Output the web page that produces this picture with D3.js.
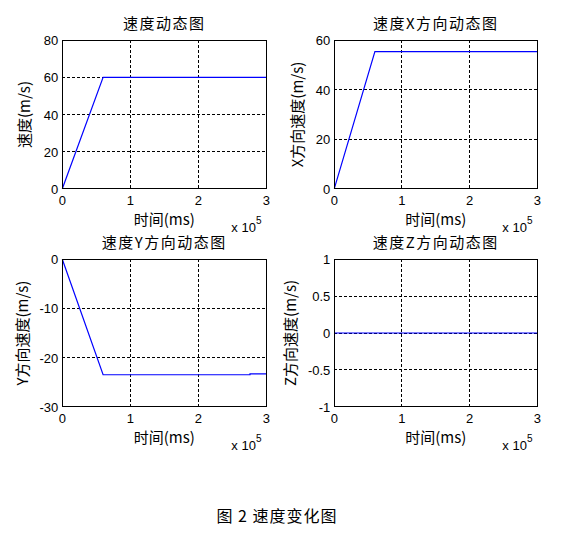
<!DOCTYPE html>
<html>
<head>
<meta charset="utf-8">
<script src="https://cdn.jsdelivr.net/npm/d3@7"></script>
<style>
  body { margin: 0; background: #fff; }
  svg { display: block; }
</style>
</head>
<body>
<div id="chart"></div>
<script>
// time in units of 1e5 ms
const timeTicks = [0, 1, 2, 3];

const speedTime = [0, 0.6, 3];
const speedValues = [0, 60, 60];

const vxTime = [0, 0.6, 3];
const vxValues = [0, 55.4, 55.4];

const vyTime = [0, 0.6, 2.76, 2.76, 3];
const vyValues = [0, -23.5, -23.5, -23.3, -23.3];

const vzTime = [0, 3];
const vzValues = [0, 0];

const panels = [
  { title: '速度动态图', ylabel: '速度(m/s)', t: speedTime, v: speedValues,
    domain: [0, 80], ticks: [0, 20, 40, 60, 80], box: [62.3, 40.3, 266.3, 188.7], ylx: 25 },
  { title: '速度X方向动态图', ylabel: 'X方向速度(m/s)', t: vxTime, v: vxValues,
    domain: [0, 60], ticks: [0, 20, 40, 60], box: [334.3, 40.3, 537.3, 188.7], ylx: 298 },
  { title: '速度Y方向动态图', ylabel: 'Y方向速度(m/s)', t: vyTime, v: vyValues,
    domain: [-30, 0], ticks: [-30, -20, -10, 0], box: [62.3, 259.3, 266.3, 406.7], ylx: 23 },
  { title: '速度Z方向动态图', ylabel: 'Z方向速度(m/s)', t: vzTime, v: vzValues,
    domain: [-1, 1], ticks: [-1, -0.5, 0, 0.5, 1], box: [334.3, 259.3, 537.3, 406.7], ylx: 291 }
];

const W = 565, H = 542;
const latin = "Arial, 'Liberation Sans', sans-serif";
const cjk = "'Noto Sans CJK SC', 'Liberation Sans', sans-serif";

const svg = d3.select('#chart').append('svg').attr('width', W).attr('height', H);

panels.forEach(p => {
  const [x0, y0, x1, y1] = p.box;
  const x = d3.scaleLinear().domain([0, 3]).range([x0, x1]);
  const y = d3.scaleLinear().domain(p.domain).range([y1, y0]);
  const g = svg.append('g');

  // grid
  g.selectAll('.gx').data(timeTicks.slice(1, -1)).join('line')
    .attr('x1', d => x(d)).attr('x2', d => x(d))
    .attr('y1', y0).attr('y2', y1)
    .attr('stroke', '#000').attr('stroke-dasharray', '3,2').attr('shape-rendering', 'crispEdges');
  g.selectAll('.gy').data(p.ticks.slice(1, -1)).join('line')
    .attr('x1', x0).attr('x2', x1)
    .attr('y1', d => y(d)).attr('y2', d => y(d))
    .attr('stroke', '#000').attr('stroke-dasharray', '3,2').attr('shape-rendering', 'crispEdges');

  // data line
  const line = d3.line().x(d => x(d[0])).y(d => y(d[1]));
  g.append('path')
    .datum(p.t.map((t, i) => [t, p.v[i]]))
    .attr('d', line)
    .attr('fill', 'none').attr('stroke', '#0000ff').attr('stroke-width', 1.2);

  // box
  g.append('rect')
    .attr('x', x0).attr('y', y0).attr('width', x1 - x0).attr('height', y1 - y0)
    .attr('fill', 'none').attr('stroke', '#000').attr('shape-rendering', 'crispEdges');

  // tick labels
  g.selectAll('.tx').data(timeTicks).join('text')
    .attr('x', d => x(d)).attr('y', y1 + 16)
    .attr('text-anchor', 'middle')
    .attr('font-family', latin).attr('font-size', 13)
    .text(d => d);
  g.selectAll('.ty').data(p.ticks).join('text')
    .attr('x', x0 - 4).attr('y', d => y(d) + 5)
    .attr('text-anchor', 'end')
    .attr('font-family', latin).attr('font-size', 13)
    .text(d => d);

  // title
  g.append('text')
    .attr('x', (x0 + x1) / 2).attr('y', y0 - 11)
    .attr('text-anchor', 'middle')
    .attr('font-family', cjk).attr('font-size', 15).attr('letter-spacing', 1.5)
    .text(p.title);

  // x label
  g.append('text')
    .attr('x', (x0 + x1) / 2).attr('y', y1 + 36)
    .attr('text-anchor', 'middle')
    .attr('font-family', cjk).attr('font-size', 15)
    .text('时间(ms)');

  // exponent
  const ex = g.append('text')
    .attr('x', x1 - 35).attr('y', y1 + 43)
    .attr('font-family', latin).attr('font-size', 13);
  ex.append('tspan').text('x 10');
  ex.append('tspan').attr('dy', -8).attr('font-size', 10).text('5');

  // y label
  g.append('text')
    .attr('transform', `translate(${p.ylx},${(y0 + y1) / 2}) rotate(-90)`)
    .attr('text-anchor', 'middle')
    .attr('dy', '0.35em')
    .attr('font-family', cjk).attr('font-size', 15)
    .text(p.ylabel);
});

// caption
svg.append('text')
  .attr('x', 277).attr('y', 522)
  .attr('text-anchor', 'middle')
  .attr('font-family', cjk).attr('font-size', 16).attr('letter-spacing', 1)
  .text('图 2  速度变化图');
</script>
</body>
</html>
